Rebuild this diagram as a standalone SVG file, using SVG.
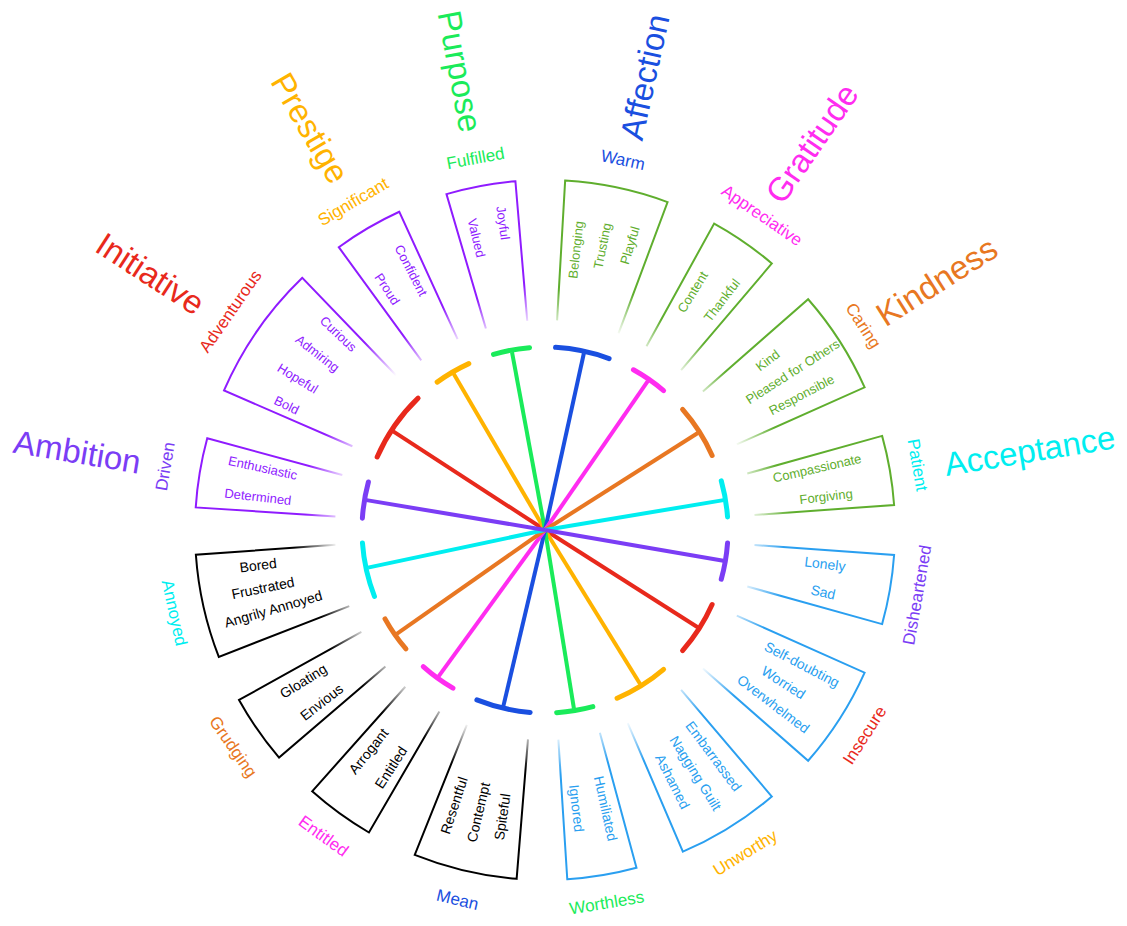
<svg xmlns="http://www.w3.org/2000/svg" width="1127" height="926" viewBox="0 0 1127 926">
<style>
text{font-family:"Liberation Sans",Arial,sans-serif;text-anchor:middle;dominant-baseline:central}
.w{font-size:13px}.wb{font-size:14px}.lab{font-size:17px}.big{font-size:33px}
.bs{text-anchor:start}.be{text-anchor:end}
.sec{fill:none;stroke-width:2}
.cap{fill:none;stroke-width:5;stroke-linecap:round}
.ray{stroke-width:4}
.P{fill:#8f1bff}.G{fill:#5fae2e}.B{fill:#2a9ff0}.K{fill:#000}
.cr{fill:#e8291c}.cy{fill:#ffb300}.cg{fill:#1aeb5a}.cb{fill:#1a4fe0}.cm{fill:#ff2cf0}.co{fill:#e87722}.cc{fill:#00eef0}.cp{fill:#7b3df5}
.sr{stroke:#e8291c}.sy{stroke:#ffb300}.sg{stroke:#1aeb5a}.sb{stroke:#1a4fe0}.sm{stroke:#ff2cf0}.so{stroke:#e87722}.sc{stroke:#00eef0}.sp{stroke:#7b3df5}
</style>
<defs>
<linearGradient id="gP" gradientUnits="userSpaceOnUse" x1="198" y1="0" x2="240" y2="0"><stop offset="0" stop-color="#8f1bff" stop-opacity="0"/><stop offset="1" stop-color="#8f1bff"/></linearGradient>
<linearGradient id="gG" gradientUnits="userSpaceOnUse" x1="198" y1="0" x2="240" y2="0"><stop offset="0" stop-color="#5fae2e" stop-opacity="0"/><stop offset="1" stop-color="#5fae2e"/></linearGradient>
<linearGradient id="gB" gradientUnits="userSpaceOnUse" x1="198" y1="0" x2="240" y2="0"><stop offset="0" stop-color="#2a9ff0" stop-opacity="0"/><stop offset="1" stop-color="#2a9ff0"/></linearGradient>
<linearGradient id="gK" gradientUnits="userSpaceOnUse" x1="198" y1="0" x2="240" y2="0"><stop offset="0" stop-color="#000" stop-opacity="0"/><stop offset="1" stop-color="#000"/></linearGradient>
</defs>
<rect width="1127" height="926" fill="#fff"/>

<g id="connectors">
<g transform="translate(545 530)">
<line class="ray sr" x1="0" y1="0" x2="0" y2="0" transform="rotate(-146.7)"/>
<g transform="rotate(-147)"><line class="ray sr" x1="0" y1="0" x2="181" y2="0"/></g>
<g transform="rotate(32.5)"><line class="ray sr" x1="0" y1="0" x2="181" y2="0"/></g>
<g transform="rotate(-120.3)"><line class="ray sy" x1="0" y1="0" x2="181" y2="0"/></g>
<g transform="rotate(58.3)"><line class="ray sy" x1="0" y1="0" x2="181" y2="0"/></g>
<g transform="rotate(-100.5)"><line class="ray sg" x1="0" y1="0" x2="181" y2="0"/></g>
<g transform="rotate(80.8)"><line class="ray sg" x1="0" y1="0" x2="181" y2="0"/></g>
<g transform="rotate(-77.6)"><line class="ray sb" x1="0" y1="0" x2="181" y2="0"/></g>
<g transform="rotate(103.3)"><line class="ray sb" x1="0" y1="0" x2="181" y2="0"/></g>
<g transform="rotate(-55.4)"><line class="ray sm" x1="0" y1="0" x2="181" y2="0"/></g>
<g transform="rotate(126)"><line class="ray sm" x1="0" y1="0" x2="181" y2="0"/></g>
<g transform="rotate(-32.4)"><line class="ray so" x1="0" y1="0" x2="181" y2="0"/></g>
<g transform="rotate(145)"><line class="ray so" x1="0" y1="0" x2="181" y2="0"/></g>
<g transform="rotate(-9.5)"><line class="ray sc" x1="0" y1="0" x2="181" y2="0"/></g>
<g transform="rotate(168)"><line class="ray sc" x1="0" y1="0" x2="181" y2="0"/></g>
<g transform="rotate(-170.5)"><line class="ray sp" x1="0" y1="0" x2="181" y2="0"/></g>
<g transform="rotate(9.8)"><line class="ray sp" x1="0" y1="0" x2="181" y2="0"/></g>
<!-- caps -->
<path class="cap sp" transform="rotate(-176.3)" d="M183 0A183 183 0 0 1 179.33 36.48"/>
<path class="cap sr" transform="rotate(-156.5)" d="M183 0A183 183 0 0 1 168.95 70.33"/>
<path class="cap sy" transform="rotate(-126.1)" d="M183 0A183 183 0 0 1 179.33 36.48"/>
<path class="cap sg" transform="rotate(-106.35)" d="M183 0A183 183 0 0 1 179.33 36.48"/>
<path class="cap sb" transform="rotate(-86.7)" d="M183 0A183 183 0 0 1 174.82 54.12"/>
<path class="cap sm" transform="rotate(-61.1)" d="M183 0A183 183 0 0 1 179.33 36.48"/>
<path class="cap so" transform="rotate(-41.25)" d="M183 0A183 183 0 0 1 174.82 54.12"/>
<path class="cap sc" transform="rotate(-15.6)" d="M183 0A183 183 0 0 1 179.33 36.48"/>
<path class="cap sp" transform="rotate(4.1)" d="M183 0A183 183 0 0 1 179.33 36.48"/>
<path class="cap sr" transform="rotate(24.05)" d="M183 0A183 183 0 0 1 174.82 54.12"/>
<path class="cap sy" transform="rotate(49.6)" d="M183 0A183 183 0 0 1 174.82 54.12"/>
<path class="cap sg" transform="rotate(74.85)" d="M183 0A183 183 0 0 1 179.33 36.48"/>
<path class="cap sb" transform="rotate(94.65)" d="M183 0A183 183 0 0 1 174.82 54.12"/>
<path class="cap sm" transform="rotate(120.2)" d="M183 0A183 183 0 0 1 179.33 36.48"/>
<path class="cap so" transform="rotate(139.45)" d="M183 0A183 183 0 0 1 179.33 36.48"/>
<path class="cap sc" transform="rotate(158.75)" d="M183 0A183 183 0 0 1 174.82 54.12"/>
</g>
</g>

<g id="big-labels">
<text class="big be cr" transform="translate(545 530) rotate(-147) translate(410 0) rotate(180)">Initiative</text>
<text class="big be cy" transform="translate(545 530) rotate(-120.3) translate(405 0) rotate(180)">Prestige</text>
<text class="big be cg" transform="translate(545 530) rotate(-100.5) translate(405 0) rotate(180)">Purpose</text>
<text class="big be cp" transform="translate(545 530) rotate(-170.5) translate(410 0) rotate(180)">Ambition</text>
<text class="big bs cb" transform="translate(545 530) rotate(-77.6) translate(400 0)">Affection</text>
<text class="big bs cm" transform="translate(545 530) rotate(-55.4) translate(402 0)">Gratitude</text>
<text class="big bs co" transform="translate(545 530) rotate(-32.4) translate(396 0)">Kindness</text>
<text class="big bs cc" transform="translate(545 530) rotate(-9.3) translate(405 0)">Acceptance</text>
</g>

<g id="driven" transform="translate(545 530)">
<path class="sec" stroke="url(#gP)" transform="rotate(-176.3)" d="M205.78 41.87L342.97 69.78A350 350 0 0 0 350 0L210 0"/>
<text class="lab cp" transform="rotate(-170.5) translate(385 0) rotate(90)">Driven</text>
<text class="w P" transform="rotate(-167.6) translate(289 0) rotate(180)">Enthusiastic</text>
<text class="w P" transform="rotate(-173.4) translate(289 0) rotate(180)">Determined</text>
</g>
<g id="adventurous" transform="translate(545 530)">
<path class="sec" stroke="url(#gP)" transform="rotate(-156.5)" d="M193.87 80.70L323.12 134.50A350 350 0 0 0 350 0L210 0"/>
<text class="lab cr" transform="rotate(-145.2) translate(383 0) rotate(90)">Adventurous</text>
<text class="w P" transform="rotate(-136.5) translate(285 0) rotate(180)">Curious</text>
<text class="w P" transform="rotate(-142.2) translate(288 0) rotate(180)">Admiring</text>
<text class="w P" transform="rotate(-148.5) translate(290 0) rotate(180)">Hopeful</text>
<text class="w P" transform="rotate(-154.2) translate(287 0) rotate(180)">Bold</text>
</g>
<g id="significant" transform="translate(545 530)">
<path class="sec" stroke="url(#gP)" transform="rotate(-126.1)" d="M205.78 41.87L342.97 69.78A350 350 0 0 0 350 0L210 0"/>
<text class="lab cy" transform="rotate(-120.3) translate(380 0) rotate(90)">Significant</text>
<text class="w P" transform="rotate(-117.3) translate(292 0) rotate(180)">Confident</text>
<text class="w P" transform="rotate(-123.2) translate(288 0) rotate(180)">Proud</text>
</g>
<g id="fulfilled" transform="translate(545 530)">
<path class="sec" stroke="url(#gP)" transform="rotate(-106.35)" d="M205.78 41.87L342.97 69.78A350 350 0 0 0 350 0L210 0"/>
<text class="lab cg" transform="rotate(-100.6) translate(378 0) rotate(90)">Fulfilled</text>
<text class="w P" transform="rotate(-97.8) translate(310 0) rotate(180)">Joyful</text>
<text class="w P" transform="rotate(-103.2) translate(300 0) rotate(180)">Valued</text>
</g>
<g id="warm" transform="translate(545 530)">
<path class="sec" stroke="url(#gG)" transform="rotate(-86.7)" d="M200.61 62.10L334.35 103.50A350 350 0 0 0 350 0L210 0"/>
<text class="lab cb" transform="rotate(-78.1) translate(378 0) rotate(90)">Warm</text>
<text class="w G" transform="rotate(-83.7) translate(282 0)">Belonging</text>
<text class="w G" transform="rotate(-78.6) translate(290 0)">Trusting</text>
<text class="w G" transform="rotate(-73.4) translate(297 0)">Playful</text>
</g>
<g id="appreciative" transform="translate(545 530)">
<path class="sec" stroke="url(#gG)" transform="rotate(-61.1)" d="M205.78 41.87L342.97 69.78A350 350 0 0 0 350 0L210 0"/>
<text class="lab cm" transform="rotate(-55.4) translate(382 0) rotate(90)">Appreciative</text>
<text class="w G" transform="rotate(-58.2) translate(280 0)">Content</text>
<text class="w G" transform="rotate(-52.4) translate(290 0)">Thankful</text>
</g>
<g id="caring" transform="translate(545 530)">
<path class="sec" stroke="url(#gG)" transform="rotate(-41.25)" d="M200.61 62.10L334.35 103.50A350 350 0 0 0 350 0L210 0"/>
<text class="lab co" transform="rotate(-32.7) translate(378 0) rotate(90)">Caring</text>
<text class="w G" transform="rotate(-37.3) translate(280 0)">Kind</text>
<text class="w G" transform="rotate(-32.6) translate(294 0)">Pleased for Others</text>
<text class="w G" transform="rotate(-27.8) translate(290 0)">Responsible</text>
</g>
<g id="patient" transform="translate(545 530)">
<path class="sec" stroke="url(#gG)" transform="rotate(-15.6)" d="M205.78 41.87L342.97 69.78A350 350 0 0 0 350 0L210 0"/>
<text class="lab cc" transform="rotate(-9.9) translate(378 0) rotate(90)">Patient</text>
<text class="w G" transform="rotate(-12.8) translate(279 0)">Compassionate</text>
<text class="w G" transform="rotate(-6.8) translate(283 0)">Forgiving</text>
</g>
<g id="disheartened" transform="translate(545 530)">
<path class="sec" stroke="url(#gB)" transform="rotate(4.1)" d="M205.78 41.87L342.97 69.78A350 350 0 0 0 350 0L210 0"/>
<text class="lab cp" transform="rotate(9.9) translate(378 0) rotate(-90)">Disheartened</text>
<text class="wb B" transform="rotate(6.9) translate(282 0)">Lonely</text>
<text class="wb B" transform="rotate(12.6) translate(285 0)">Sad</text>
</g>
<g id="insecure" transform="translate(545 530)">
<path class="sec" stroke="url(#gB)" transform="rotate(24.05)" d="M200.61 62.10L334.35 103.50A350 350 0 0 0 350 0L210 0"/>
<text class="lab cr" transform="rotate(32.7) translate(380 0) rotate(-90)">Insecure</text>
<text class="wb B" transform="rotate(27.6) translate(290 0)">Self-doubting</text>
<text class="wb B" transform="rotate(32.6) translate(283 0)">Worried</text>
<text class="wb B" transform="rotate(37.3) translate(287 0)">Overwhelmed</text>
</g>
<g id="unworthy" transform="translate(545 530)">
<path class="sec" stroke="url(#gB)" transform="rotate(49.6)" d="M200.61 62.10L334.35 103.50A350 350 0 0 0 350 0L210 0"/>
<text class="lab cy" transform="rotate(58.2) translate(380 0) rotate(-90)">Unworthy</text>
<text class="wb B" transform="rotate(53.3) translate(282 0)">Embarrassed</text>
<text class="wb B" transform="rotate(58.2) translate(286 0)">Nagging Guilt</text>
<text class="wb B" transform="rotate(63.1) translate(282 0)">Ashamed</text>
</g>
<g id="worthless" transform="translate(545 530)">
<path class="sec" stroke="url(#gB)" transform="rotate(74.85)" d="M205.78 41.87L342.97 69.78A350 350 0 0 0 350 0L210 0"/>
<text class="lab cg" transform="rotate(80.6) translate(378 0) rotate(-90)">Worthless</text>
<text class="wb B" transform="rotate(77.7) translate(285 0)">Humiliated</text>
<text class="wb B" transform="rotate(83.5) translate(280 0)">Ignored</text>
</g>
<g id="mean" transform="translate(545 530)">
<path class="sec" stroke="url(#gK)" transform="rotate(94.65)" d="M200.61 62.10L334.35 103.50A350 350 0 0 0 350 0L210 0"/>
<text class="lab cb" transform="rotate(103.3) translate(380 0) rotate(-90)">Mean</text>
<text class="wb K" transform="rotate(98.5) translate(290 0) rotate(180)">Spiteful</text>
<text class="wb K" transform="rotate(103.3) translate(290 0) rotate(180)">Contempt</text>
<text class="wb K" transform="rotate(108.3) translate(290 0) rotate(180)">Resentful</text>
</g>
<g id="entitled" transform="translate(545 530)">
<path class="sec" stroke="url(#gK)" transform="rotate(120.2)" d="M205.78 41.87L342.97 69.78A350 350 0 0 0 350 0L210 0"/>
<text class="lab cm" transform="rotate(125.9) translate(378 0) rotate(-90)">Entitled</text>
<text class="wb K" transform="rotate(123) translate(283 0) rotate(180)">Entitled</text>
<text class="wb K" transform="rotate(128.6) translate(283 0) rotate(180)">Arrogant</text>
</g>
<g id="grudging" transform="translate(545 530)">
<path class="sec" stroke="url(#gK)" transform="rotate(139.45)" d="M205.78 41.87L342.97 69.78A350 350 0 0 0 350 0L210 0"/>
<text class="lab co" transform="rotate(145.2) translate(380 0) rotate(-90)">Grudging</text>
<text class="wb K" transform="rotate(142.4) translate(282 0) rotate(180)">Envious</text>
<text class="wb K" transform="rotate(148) translate(285 0) rotate(180)">Gloating</text>
</g>
<g id="annoyed" transform="translate(545 530)">
<path class="sec" stroke="url(#gK)" transform="rotate(158.75)" d="M200.61 62.10L334.35 103.50A350 350 0 0 0 350 0L210 0"/>
<text class="lab cc" transform="rotate(167.4) translate(380 0) rotate(-90)">Annoyed</text>
<text class="wb K" transform="rotate(163.8) translate(283 0) rotate(180)">Angrily Annoyed</text>
<text class="wb K" transform="rotate(168.4) translate(288 0) rotate(180)">Frustrated</text>
<text class="wb K" transform="rotate(173) translate(289 0) rotate(180)">Bored</text>
</g>
</svg>
